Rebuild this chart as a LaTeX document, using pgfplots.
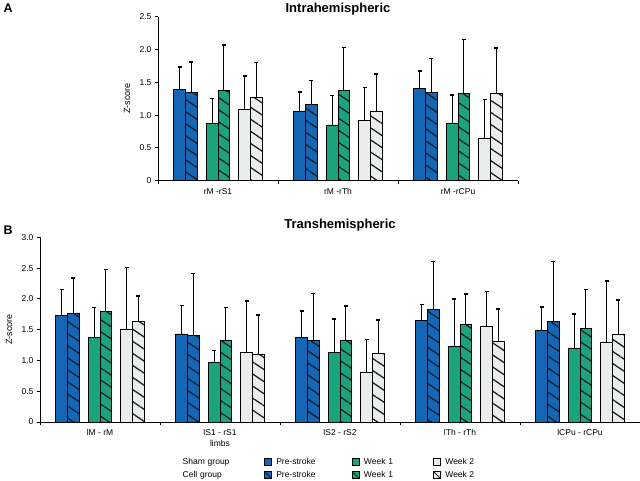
\documentclass[border=0pt]{standalone}
\usepackage{fontspec}
\setmainfont{Liberation Sans}
\usepackage{pgfplots}
\pgfplotsset{compat=1.18}
\usepackage{pgfplotstable}
\usetikzlibrary{patterns.meta}

\definecolor{cblue}{HTML}{1367B4}
\definecolor{cgreen}{HTML}{1BA37D}
\definecolor{cgrey}{HTML}{EBEDED}
\definecolor{hatch}{HTML}{161B26}

% mean and upper error (SD) for each group
\pgfplotstableread{
x sp spE cp cpE s1 s1E c1 c1E s2 s2E c2 c2E
0 1.39 0.34 1.34 0.47 0.87 0.38 1.38 0.69 1.08 0.52 1.27 0.53
1 1.05 0.30 1.16 0.37 0.85 0.45 1.38 0.65 0.92 0.50 1.06 0.57
2 1.41 0.26 1.35 0.51 0.88 0.43 1.33 0.82 0.64 0.60 1.33 0.69
}\intra

\pgfplotstableread{
x sp spE cp cpE s1 s1E c1 c1E s2 s2E c2 c2E
0 1.73 0.42 1.76 0.58 1.38 0.48 1.80 0.68 1.51 1.00 1.63 0.42
1 1.43 0.46 1.40 1.01 0.97 0.19 1.32 0.54 1.13 0.84 1.10 0.64
2 1.38 0.42 1.33 0.76 1.13 0.54 1.32 0.56 0.81 0.53 1.12 0.54
3 1.65 0.26 1.83 0.78 1.22 0.78 1.58 0.50 1.55 0.57 1.31 0.53
4 1.48 0.39 1.63 0.98 1.19 0.56 1.52 0.63 1.29 1.00 1.43 0.55
}\trans

\pgfplotsset{
  zbar/.style={ybar, bar width=11.7pt, bar shift=0pt, draw=black, line width=0.8pt,
    fill=#1, forget plot,
    error bars/y dir=plus, error bars/y explicit, error bars/error mark=-,
    error bars/error bar style={line width=1pt, draw=black},
    error bars/error mark options={rotate=90, line width=1.6pt, mark size=2pt, draw=black}},
  hatchover/.style={ybar, bar width=11.7pt, bar shift=0pt, draw=black, line width=0.8pt,
    forget plot, pattern color=hatch,
    pattern={Lines[angle=-34,distance=10pt,line width=1.25pt]}},
  swatch/.style={legend image code/.code={%
    \draw[fill=#1, draw=black, line width=0.6pt] (0pt,-3.5pt) rectangle (7pt,3.5pt);}},
  hswatch/.style={legend image code/.code={%
    \fill[#1] (0pt,-3.5pt) rectangle (7pt,3.5pt);
    \draw[hatch, line width=0.8pt] (0pt,3.5pt) -- (7pt,-3.5pt);
    \draw[black, line width=0.6pt] (0pt,-3.5pt) rectangle (7pt,3.5pt);}},
  zaxis/.style={
    scale only axis, axis lines=left, axis line style={-, line width=0.9pt},
    enlargelimits=false, ymin=0, xmin=-0.5,
    tick align=outside, major tick length=3pt, minor tick length=3.5pt,
    ytick style={line width=0.8pt, black},
    major x tick style={draw=none},
    minor x tick style={line width=0.8pt, black},
    tick label style={font=\fontsize{8.5}{10.5}\selectfont, black},
    xticklabel style={align=center, anchor=north, yshift=-1pt},
    ylabel={Z-score},
    every axis y label/.style={at={([xshift=-31pt]axis description cs:0,0.5)},
      rotate=90, anchor=center, font=\fontsize{9}{11}\selectfont},
    title style={at={(axis description cs:0.5,1)}, anchor=base,
      font=\fontsize{13}{15}\selectfont\bfseries},
  },
}

\begin{document}
\begin{tikzpicture}[x=1pt,y=1pt]
\path[use as bounding box] (0,0) rectangle (640,481);

\node[anchor=base west, font=\fontsize{12.5}{14}\selectfont\bfseries] at (0,468) {A};
\node[anchor=base west, font=\fontsize{12.5}{14}\selectfont\bfseries] at (0,246) {B};

\begin{axis}[zaxis, at={(158pt,300.3pt)}, anchor=south west,
  width=360pt, height=164pt, xmax=2.5, ymax=2.5,
  title={Intrahemispheric}, title style={yshift=-1.5pt},
  xtick={0,1,2}, xticklabels={rM -rS1, rM -rTh, rM -rCPu},
  minor xtick={-0.5,0.5,1.5,2.5},
  ytick={0,0.5,1,1.5,2,2.5}, yticklabels={0,0.5,1.0,1.5,2.0,2.5}]
\addplot[zbar=cblue] table[x expr=\thisrow{x}-0.32, y=sp, y error=spE]{\intra};
\addplot[zbar=cblue] table[x expr=\thisrow{x}-0.2225, y=cp, y error=cpE]{\intra};
\addplot[hatchover] table[x expr=\thisrow{x}-0.2225, y=cp]{\intra};
\addplot[zbar=cgreen] table[x expr=\thisrow{x}-0.04875, y=s1, y error=s1E]{\intra};
\addplot[zbar=cgreen] table[x expr=\thisrow{x}+0.04875, y=c1, y error=c1E]{\intra};
\addplot[hatchover] table[x expr=\thisrow{x}+0.04875, y=c1]{\intra};
\addplot[zbar=cgrey] table[x expr=\thisrow{x}+0.2225, y=s2, y error=s2E]{\intra};
\addplot[zbar=cgrey] table[x expr=\thisrow{x}+0.32, y=c2, y error=c2E]{\intra};
\addplot[hatchover] table[x expr=\thisrow{x}+0.32, y=c2]{\intra};
\end{axis}

\begin{axis}[zaxis, at={(40pt,59pt)}, anchor=south west,
  width=600pt, height=184.7pt, xmax=4.5, ymax=3,
  title={Transhemispheric}, title style={yshift=2.3pt},
  xtick={0,1,2,3,4},
  xticklabels={lM - rM, lS1 - rS1\\limbs, lS2 - rS2, lTh - rTh, lCPu - rCPu},
  minor xtick={-0.5,0.5,1.5,2.5,3.5,4.5},
  ytick={0,0.5,1,1.5,2,2.5,3}, yticklabels={0,0.5,1.0,1.5,2.0,2.5,3.0},
  legend columns=4,
  legend style={draw=none, fill=none, inner sep=0pt,
    at={(axis description cs:0.23,-0.2512)}, anchor=west,
    font=\fontsize{8.5}{10.5}\selectfont,
    nodes={inner xsep=0pt, inner ysep=0pt, text height=6.3pt, text depth=1.8pt},
    row sep=5pt,
    /tikz/every odd column/.append style={column sep=4.5pt},
    /tikz/column 2/.append style={nodes={text width=81.3pt}},
    /tikz/column 4/.append style={nodes={text width=75.4pt}},
    /tikz/column 6/.append style={nodes={text width=69.1pt}}},
  legend cell align=left]
\addplot[zbar=cblue] table[x expr=\thisrow{x}-0.32, y=sp, y error=spE]{\trans};
\addplot[zbar=cblue] table[x expr=\thisrow{x}-0.2225, y=cp, y error=cpE]{\trans};
\addplot[hatchover] table[x expr=\thisrow{x}-0.2225, y=cp]{\trans};
\addplot[zbar=cgreen] table[x expr=\thisrow{x}-0.04875, y=s1, y error=s1E]{\trans};
\addplot[zbar=cgreen] table[x expr=\thisrow{x}+0.04875, y=c1, y error=c1E]{\trans};
\addplot[hatchover] table[x expr=\thisrow{x}+0.04875, y=c1]{\trans};
\addplot[zbar=cgrey] table[x expr=\thisrow{x}+0.2225, y=s2, y error=s2E]{\trans};
\addplot[zbar=cgrey] table[x expr=\thisrow{x}+0.32, y=c2, y error=c2E]{\trans};
\addplot[hatchover] table[x expr=\thisrow{x}+0.32, y=c2]{\trans};

\addlegendimage{empty legend}\addlegendentry{Sham group}
\addlegendimage{swatch=cblue}\addlegendentry{Pre-stroke}
\addlegendimage{swatch=cgreen}\addlegendentry{Week 1}
\addlegendimage{swatch=cgrey}\addlegendentry{Week 2}
\addlegendimage{empty legend}\addlegendentry{Cell group}
\addlegendimage{hswatch=cblue}\addlegendentry{Pre-stroke}
\addlegendimage{hswatch=cgreen}\addlegendentry{Week 1}
\addlegendimage{hswatch=cgrey}\addlegendentry{Week 2}
\end{axis}
\end{tikzpicture}
\end{document}
